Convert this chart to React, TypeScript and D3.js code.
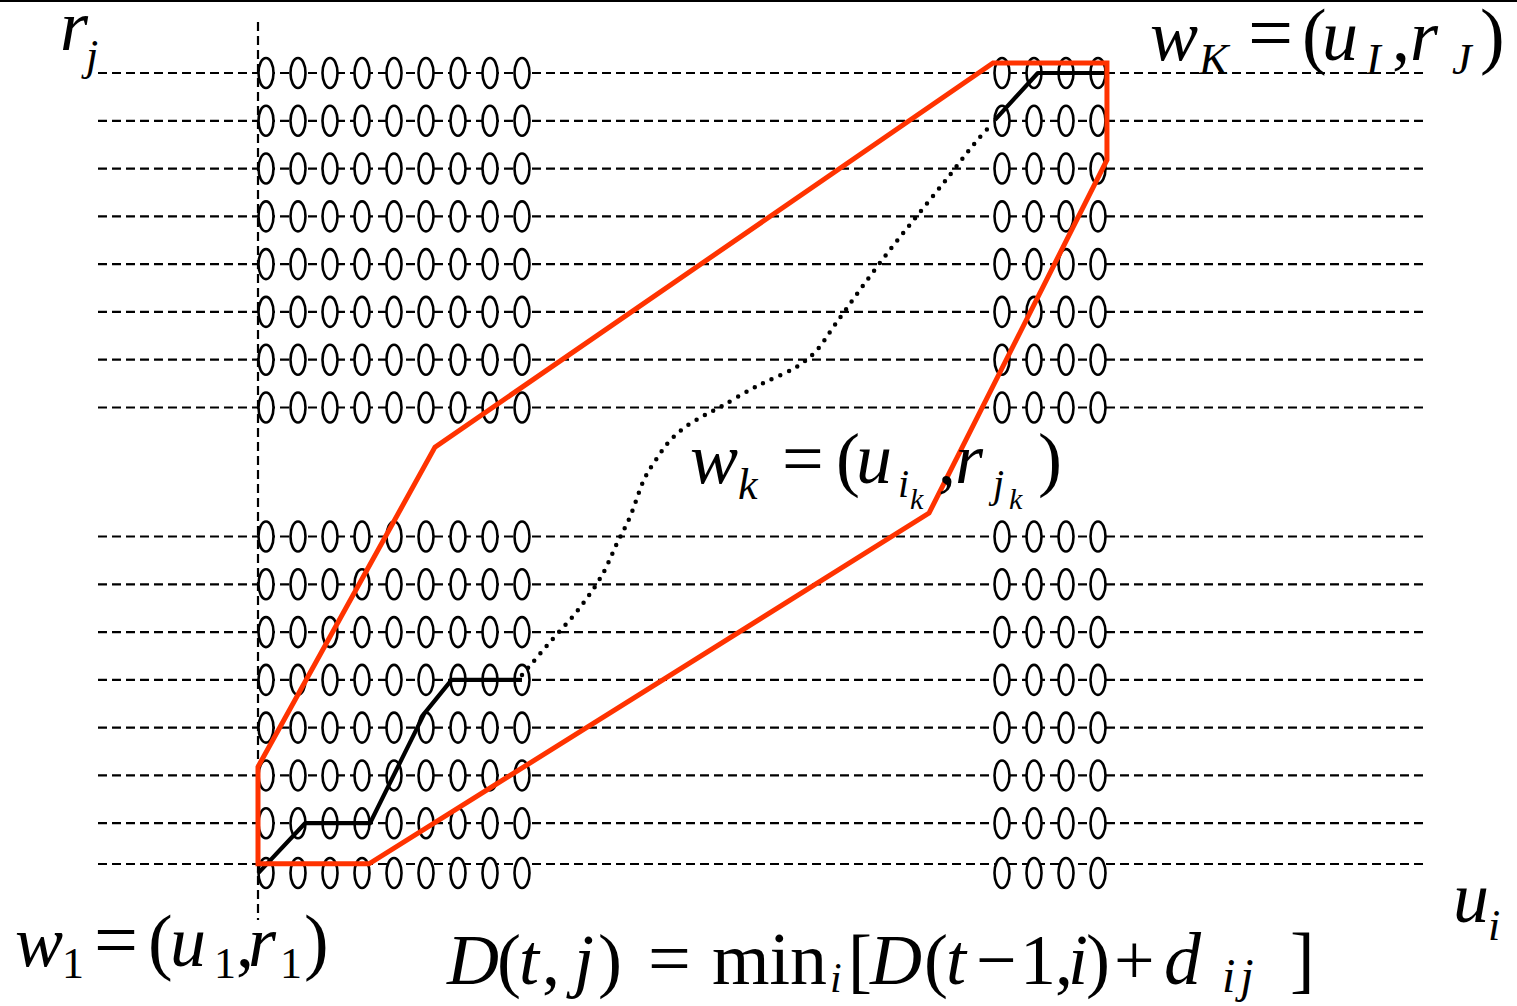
import React from 'react';
import * as d3 from 'd3';

const W = 1517;
const H = 1006;

// grid indices: columns u_i, rows r_j
const leftCols = [0, 1, 2, 3, 4, 5, 6, 7, 8];
const rightCols = [23, 24, 25, 26];
const lowerRows = [0, 1, 2, 3, 4, 5, 6, 7];
const upperRows = [9.7, 10.7, 11.7, 12.7, 13.7, 14.7, 15.7, 16.7];

// global constraint window (grid units [col,row])
const windowPoly: [number, number][] = [
  [-0.25, 0.15], [-0.25, 2.18], [5.28, 8.87], [22.72, 16.91],
  [26.28, 16.91], [26.28, 14.88], [20.72, 7.49], [3.22, 0.15],
];

// warping path, start segment
const pathStart: [number, number][] = [
  [-0.25, -0.05], [1.22, 1], [3.25, 1], [4.95, 3.3], [5.8, 4], [8, 4],
];
// warping path, end segment
const pathEnd: [number, number][] = [
  [22.78, 15.72], [24.12, 16.7], [26.28, 16.7],
];
// warping path, omitted middle (dotted)
const pathMiddle: [number, number][] = [
  [8, 4.1], [8.875, 4.79], [9.75, 5.46], [10.5, 6.19], [10.97, 6.86],
  [11.375, 7.41], [11.84, 8.23], [12.22, 8.64], [12.59, 8.98], [13.06, 9.27],
  [13.66, 9.52], [14.25, 9.73], [15.125, 10.07], [15.69, 10.26], [16.53, 10.53],
  [17.16, 10.86], [17.78, 11.43], [18.56, 12.16], [19.5, 13.0], [20.44, 13.79],
  [21.375, 14.57], [22.16, 15.24], [22.625, 15.59],
];

// label runs: [text, x, baselineOffset, fontSize, italic, letterSpacing]
type Run = [string, number, number, number, boolean, number?];
const labelRJ: Run[] = [
  ['r', 60, 0, 72, true],
  ['j', 86, 20, 44, true],
];
const labelWK: Run[] = [
  ['w', 1150, 0, 72, true],
  ['K', 1199, 14, 44, true],
  ['=', 1248, 0, 80, false],
  ['(', 1302, 0, 74, false],
  ['u', 1322, 0, 72, true],
  ['I', 1366, 14, 44, true],
  [',', 1392, 0, 72, false],
  ['r', 1410, 0, 72, true],
  ['J', 1452, 14, 44, true],
  [')', 1480, 0, 74, false],
];
const labelWk: Run[] = [
  ['w', 690, 0, 72, true],
  ['k', 738, 16, 44, true],
  ['=', 782, 0, 74, false],
  ['(', 836, 0, 72, false],
  ['u', 856, 0, 72, true],
  ['i', 898, 14, 40, true],
  ['k', 910, 26, 30, true],
  [',', 938, 0, 72, false],
  ['r', 955, 0, 72, true],
  ['j', 993, 14, 40, true],
  ['k', 1009, 26, 30, true],
  [')', 1038, 0, 72, false],
];
const labelUi: Run[] = [
  ['u', 1453, 0, 72, true],
  ['i', 1488, 18, 44, true],
];
const labelW1: Run[] = [
  ['w', 15, 0, 72, true],
  ['1', 62, 12, 44, false],
  ['=', 94, 0, 78, false],
  ['(', 148, 0, 74, false],
  ['u', 170, 0, 72, true],
  ['1', 214, 12, 44, false],
  [',', 236, 0, 72, false],
  ['r', 248, 0, 72, true],
  ['1', 280, 12, 44, false],
  [')', 304, 0, 74, false],
];
const labelD: Run[] = [
  ['D', 447, 0, 72, true],
  ['(', 497, 0, 72, false],
  ['t', 519, 0, 72, true],
  [',', 542, 0, 72, false],
  ['j', 574, 0, 72, true],
  [')', 598, 0, 72, false],
  ['=', 648, 0, 76, false],
  ['min', 712, 0, 74, false],
  ['i', 830, 8, 42, true],
  ['[', 848, 0, 72, false],
  ['D', 870, 0, 72, true],
  ['(', 924, 0, 72, false],
  ['t', 946, 0, 72, true],
  ['−', 976, 0, 72, false],
  ['1', 1020, 0, 72, false],
  [',', 1055, 0, 72, false],
  ['i', 1068, 0, 72, true],
  [')', 1086, 0, 72, false],
  ['+', 1114, 0, 72, false],
  ['d', 1164, 0, 74, true],
  ['ij', 1222, 8, 48, true, 5],
  [']', 1290, 0, 74, false],
];

const RED = '#ff3300';
const FONT = '"Liberation Serif", "Times New Roman", serif';

function Label({ runs, y }: { runs: Run[]; y: number }) {
  return (
    <text fontFamily={FONT} fill="#000">
      {runs.map(([t, x, off, fs, ital, ls], i) => (
        <tspan
          key={i}
          x={x}
          y={y + off}
          fontSize={fs}
          fontStyle={ital ? 'italic' : 'normal'}
          letterSpacing={ls || 0}
        >
          {t}
        </tspan>
      ))}
    </text>
  );
}

export default function App() {
  const xs = d3.scaleLinear().domain([0, 26]).range([266, 1098]);
  const ys = d3.scaleLinear().domain([0, 16.7]).range([871, 73]);

  const line = d3.line<[number, number]>().x((d) => xs(d[0])).y((d) => ys(d[1]));
  const curve = d3
    .line<[number, number]>()
    .x((d) => xs(d[0]))
    .y((d) => ys(d[1]))
    .curve(d3.curveCatmullRom.alpha(0.5));

  const rows = [...lowerRows, ...upperRows];
  const cols = [...leftCols, ...rightCols];
  const lineY = (r: number) => (r === 0 ? ys(r) - 7 : ys(r));
  const cellY = (r: number) => (r === 0 ? ys(r) + 2 : ys(r));

  return (
    <svg
      width={W}
      height={H}
      viewBox={`0 0 ${W} ${H}`}
      style={{ position: 'absolute', left: 0, top: 0, background: '#fff' }}
    >
      <rect x={0} y={0} width={W} height={H} fill="#fff" />
      <rect x={0} y={0} width={W} height={2} fill="#000" />

      {/* row dashed lines */}
      {rows.map((r) => (
        <line
          key={'row' + r}
          x1={98}
          x2={1427}
          y1={lineY(r)}
          y2={lineY(r)}
          stroke="#000"
          strokeWidth={2.2}
          strokeDasharray="9,5"
        />
      ))}

      {/* vertical axis dashed */}
      <line x1={258} x2={258} y1={22} y2={920} stroke="#000" strokeWidth={2.2} strokeDasharray="9,5" />

      {/* grid cells */}
      {rows.map((r) =>
        cols.map((c) => (
          <ellipse
            key={`c${r}-${c}`}
            cx={xs(c)}
            cy={cellY(r)}
            rx={7.5}
            ry={15}
            fill="#fff"
            stroke="#000"
            strokeWidth={2.6}
          />
        ))
      )}

      {/* dotted middle path */}
      <path
        d={curve(pathMiddle) || ''}
        fill="none"
        stroke="#000"
        strokeWidth={4.5}
        strokeLinecap="round"
        strokeDasharray="0,9.5"
      />

      {/* warping path */}
      <path d={line(pathStart) || ''} fill="none" stroke="#000" strokeWidth={4.2} strokeLinejoin="round" />
      <path d={line(pathEnd) || ''} fill="none" stroke="#000" strokeWidth={4.2} strokeLinejoin="round" />

      {/* window polygon */}
      <path d={(line(windowPoly) || '') + 'Z'} fill="none" stroke={RED} strokeWidth={5} strokeLinejoin="miter" />

      {/* labels */}
      <Label runs={labelRJ} y={50} />
      <Label runs={labelWK} y={60} />
      <Label runs={labelWk} y={483} />
      <Label runs={labelUi} y={922} />
      <Label runs={labelW1} y={966} />
      <Label runs={labelD} y={984} />
    </svg>
  );
}
